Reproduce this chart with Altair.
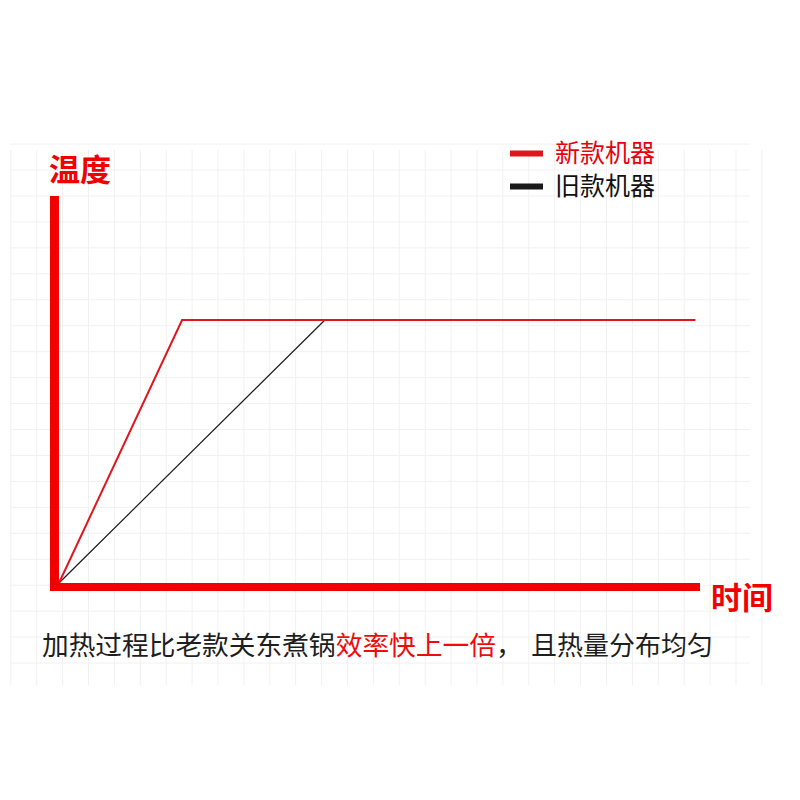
import altair as alt
import pandas as pd

# ---- data (units: 1 = one grid cell) ----
series_names = ["新款机器", "旧款机器"]
new_time = [0, 4.68, 24.2]
new_temp = [0, 10, 10]
old_time = [0, 10.11]
old_temp = [0, 10]

x_title = ["时间"]
y_title = ["温度"]
caption_parts = ["加热过程比老款关东煮锅", "效率快上一倍", "，", "且热量分布均匀"]
caption_colors = ["#1e1e1e", "#f00a0a", "#1e1e1e", "#1e1e1e"]

# axis arrows (data coordinates)
y_axis_x = [-0.171]
y_axis_span = [-0.304, 14.715]
x_axis_y = [-0.152]
x_axis_span = [-0.342, 24.373]

# faint background grid (decoration)
grid_x = [round((36.7 - 59 + 25.9 * k) / 26.3, 3) for k in range(-1, 29)]
grid_y = [round((583 - 170.0 - 25.95 * k) / 26.3, 3) for k in range(-1, 20)]

X_DOMAIN = [-1.863, 26.274]
Y_DOMAIN = [-3.878, 16.464]

FONT = "Noto Sans CJK SC"
AXIS_RED = "#f20000"
LINE_RED = "#e0161e"
GRID = "#f1f1f1"

new_df = pd.DataFrame({"机器": series_names[0], "时间": new_time, "温度": new_temp})
old_df = pd.DataFrame({"机器": series_names[1], "时间": old_time, "温度": old_temp})

xs = alt.Scale(domain=X_DOMAIN, nice=False, zero=False)
ys = alt.Scale(domain=Y_DOMAIN, nice=False, zero=False)

color = alt.Color(
    "机器:N",
    scale=alt.Scale(domain=series_names, range=[LINE_RED, "#1a1a1a"]),
    legend=alt.Legend(
        title=None, orient="none", legendX=497, legendY=-16,
        symbolType="stroke", symbolStrokeWidth=6, symbolSize=1089,
        labelFont=FONT, labelFontSize=25, labelOffset=9,
        labelColor=alt.ExprRef("datum.label === '新款机器' ? '#e8000b' : '#111111'"),
        rowPadding=-5, padding=0),
)

gx = alt.Chart(pd.DataFrame({"g": grid_x})).mark_rule(color=GRID, strokeWidth=1).encode(
    x=alt.X("g:Q", scale=xs, axis=None))
gy = alt.Chart(pd.DataFrame({"g": grid_y})).mark_rule(color=GRID, strokeWidth=1).encode(
    y=alt.Y("g:Q", scale=ys, axis=None))

old_line = alt.Chart(old_df).mark_line(strokeWidth=1.2).encode(
    x=alt.X("时间:Q", scale=xs, axis=None),
    y=alt.Y("温度:Q", scale=ys, axis=None),
    color=color,
)
new_line = alt.Chart(new_df).mark_line(strokeWidth=2, strokeJoin="miter").encode(
    x=alt.X("时间:Q", scale=xs, axis=None),
    y=alt.Y("温度:Q", scale=ys, axis=None),
    color=color,
)

yaxis_df = pd.DataFrame({"x": y_axis_x, "y": [y_axis_span[0]], "y2": [y_axis_span[1]]})
xaxis_df = pd.DataFrame({"y": x_axis_y, "x": [x_axis_span[0]], "x2": [x_axis_span[1]]})

y_rule = alt.Chart(yaxis_df).mark_rule(color=AXIS_RED, strokeWidth=9, strokeCap="butt").encode(
    x=alt.X("x:Q", scale=xs), y=alt.Y("y:Q", scale=ys), y2="y2:Q")
x_rule = alt.Chart(xaxis_df).mark_rule(color=AXIS_RED, strokeWidth=8, strokeCap="butt").encode(
    y=alt.Y("y:Q", scale=ys), x=alt.X("x:Q", scale=xs), x2="x2:Q")

ytitle = alt.Chart(pd.DataFrame({"t": y_title})).mark_text(
    font=FONT, fontSize=31, fontWeight="bold", color=AXIS_RED, align="left", baseline="alphabetic"
).encode(text="t:N", x=alt.value(39), y=alt.value(31))

xtitle = alt.Chart(pd.DataFrame({"t": x_title})).mark_text(
    font=FONT, fontSize=31, fontWeight="bold", color=AXIS_RED, align="left", baseline="alphabetic"
).encode(text="t:N", x=alt.value(701), y=alt.value(459))

cap_x = [32, 325.7, 485.9, 521]
cap_size = [26.7, 26.7, 26.7, 26]
caps = []
for txt, col, px, fs in zip(caption_parts, caption_colors, cap_x, cap_size):
    caps.append(alt.Chart(pd.DataFrame({"t": [txt]})).mark_text(
        font=FONT, fontSize=fs, color=col, align="left", baseline="alphabetic"
    ).encode(text="t:N", x=alt.value(px), y=alt.value(505)))

chart = alt.layer(gx, gy, old_line, new_line, y_rule, x_rule, ytitle, xtitle, *caps).properties(
    width=740, height=535,
    padding={"left": 2, "top": 142, "right": 40, "bottom": 10},
    autosize=alt.AutoSizeParams(type="none"),
    background="white",
).configure_view(stroke=None)

chart.save("out.html", embed_options={"renderer": "svg", "actions": False})
